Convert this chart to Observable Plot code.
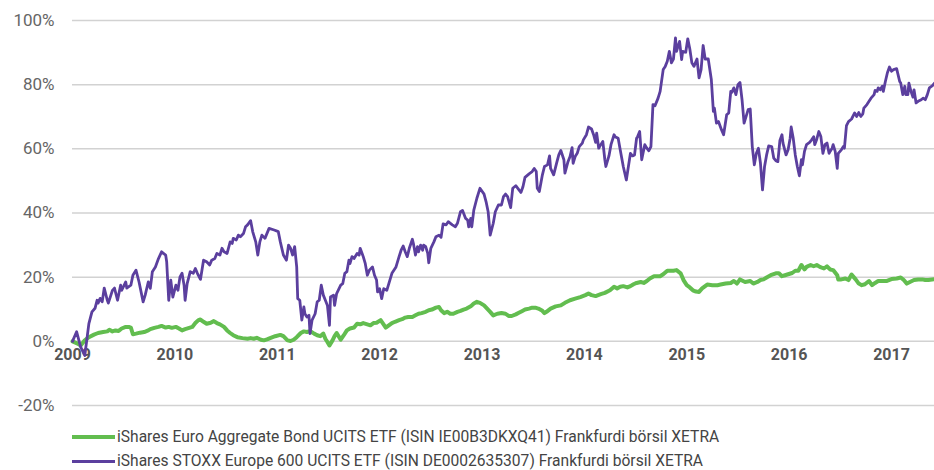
<!DOCTYPE html>
<html>
<head>
<meta charset="utf-8">
<script src="https://cdn.jsdelivr.net/npm/d3@7"></script>
<script src="https://cdn.jsdelivr.net/npm/@observablehq/plot@0.6"></script>
<style>
  html, body { margin: 0; padding: 0; background: #fff; }
  #chart { width: 934px; }
  .legend { font-family: Roboto, sans-serif; font-size: 15.6px; line-height: 18px; color: #444; margin-top: 5px; }
  .legend .row { height: 24px; display: flex; align-items: center; }
  .legend .sw { width: 43px; margin-left: 72px; margin-right: 2px; }
</style>
</head>
<body>
<div id="chart"></div>
<script>
// Tick labels
const yTicks = [-20, 0, 20, 40, 60, 80, 100];
const yearTicks = [2009, 2010, 2011, 2012, 2013, 2014, 2015, 2016, 2017];

// Series names
const seriesNames = [
  "iShares Euro Aggregate Bond UCITS ETF (ISIN IE00B3DKXQ41) Frankfurdi börsil XETRA",
  "iShares STOXX Europe 600 UCITS ETF (ISIN DE0002635307) Frankfurdi börsil XETRA"
];

// Bond ETF: decimal year, cumulative return %
const bondYears = [2009.00,2009.05,2009.08,2009.12,2009.16,2009.21,2009.25,2009.30,2009.34,2009.36,2009.39,2009.42,2009.45,2009.48,2009.52,2009.55,2009.57,2009.59,2009.62,2009.66,2009.70,2009.74,2009.76,2009.80,2009.84,2009.87,2009.91,2009.94,2009.97,2010.01,2010.04,2010.07,2010.10,2010.14,2010.17,2010.20,2010.23,2010.25,2010.28,2010.31,2010.35,2010.38,2010.41,2010.44,2010.48,2010.51,2010.54,2010.57,2010.61,2010.66,2010.71,2010.74,2010.77,2010.80,2010.84,2010.87,2010.90,2010.93,2010.98,2011.03,2011.06,2011.10,2011.13,2011.16,2011.19,2011.23,2011.26,2011.29,2011.32,2011.36,2011.39,2011.42,2011.45,2011.47,2011.49,2011.51,2011.54,2011.56,2011.58,2011.62,2011.65,2011.68,2011.71,2011.75,2011.78,2011.81,2011.84,2011.88,2011.91,2011.94,2011.97,2012.01,2012.03,2012.06,2012.09,2012.12,2012.15,2012.19,2012.22,2012.25,2012.28,2012.32,2012.35,2012.38,2012.41,2012.45,2012.48,2012.51,2012.55,2012.58,2012.60,2012.63,2012.66,2012.69,2012.72,2012.76,2012.79,2012.82,2012.85,2012.89,2012.92,2012.95,2012.98,2013.02,2013.05,2013.08,2013.11,2013.15,2013.19,2013.23,2013.26,2013.29,2013.33,2013.36,2013.39,2013.42,2013.46,2013.49,2013.52,2013.55,2013.59,2013.61,2013.63,2013.67,2013.72,2013.77,2013.81,2013.86,2013.91,2013.96,2014.01,2014.04,2014.07,2014.11,2014.16,2014.20,2014.25,2014.29,2014.32,2014.35,2014.38,2014.42,2014.45,2014.48,2014.51,2014.55,2014.58,2014.61,2014.64,2014.68,2014.74,2014.77,2014.81,2014.84,2014.87,2014.90,2014.94,2014.97,2015.00,2015.03,2015.06,2015.09,2015.12,2015.15,2015.20,2015.25,2015.30,2015.33,2015.38,2015.43,2015.46,2015.49,2015.52,2015.57,2015.62,2015.65,2015.69,2015.72,2015.75,2015.78,2015.82,2015.87,2015.90,2015.93,2015.96,2015.99,2016.03,2016.06,2016.09,2016.12,2016.15,2016.17,2016.21,2016.24,2016.27,2016.30,2016.34,2016.37,2016.40,2016.43,2016.47,2016.48,2016.51,2016.55,2016.58,2016.61,2016.65,2016.68,2016.71,2016.74,2016.78,2016.81,2016.84,2016.87,2016.90,2016.95,2017.00,2017.05,2017.09,2017.12,2017.15,2017.18,2017.22,2017.26,2017.30,2017.33,2017.36,2017.42];
const bondValues = [0,-0.7,-1.3,0.3,1.3,2.1,2.6,2.9,3.1,3.6,3.1,3.4,3.2,4.0,4.5,4.5,4.3,2.2,2.4,2.7,2.9,3.4,3.8,4.2,4.5,4.8,4.3,4.5,4.2,4.5,4.0,3.4,3.8,4.2,4.5,5.7,6.6,6.8,6.1,5.5,5.8,6.3,5.7,5.3,4.5,3.4,2.6,1.9,1.3,1.0,0.8,1.0,0.8,1.1,0.5,0.3,0.6,1.0,1.6,2.0,1.6,0.3,0.1,0.5,1.3,2.6,3.1,2.9,3.2,2.4,1.9,1.6,2.4,0.8,-0.2,-1.3,0.3,1.6,2.6,0.5,1.9,3.4,4.0,4.3,5.5,5.3,5.7,5.3,5.0,5.7,5.8,6.6,5.7,4.3,5.0,5.7,6.1,6.6,6.9,7.4,7.6,7.6,8.1,8.6,8.8,9.2,9.7,9.9,10.5,10.7,9.7,8.8,9.2,8.6,8.6,9.2,9.5,9.9,10.2,10.9,11.8,12.3,12.0,11.2,10.2,9.2,8.1,8.6,8.8,8.6,7.9,7.9,8.4,8.9,9.4,9.9,10.2,10.5,10.5,10.2,9.5,8.8,9.2,10.2,10.9,11.2,12.0,12.8,13.3,13.8,14.4,14.9,14.4,14.1,14.7,15.1,15.9,17.0,16.5,17.0,17.2,16.8,17.2,17.8,18.2,18.5,18.2,18.8,19.6,20.3,20.3,20.9,22.0,22.0,22.0,22.2,21.2,19.0,17.5,16.8,15.9,15.5,15.4,16.5,17.7,17.5,17.5,17.7,18.0,18.2,18.8,18.0,19.3,18.5,18.8,18.0,18.5,19.1,19.3,19.9,20.6,21.2,21.2,20.3,20.6,20.9,21.3,22.0,22.0,23.8,22.4,23.2,23.8,23.4,23.8,23.2,22.7,23.4,22.4,22.2,20.6,19.3,19.3,19.6,19.1,20.8,19.3,18.0,17.5,17.8,18.8,17.5,18.2,18.8,18.8,18.8,19.4,19.6,19.9,19.1,18.0,18.5,19.1,19.3,19.3,19.1,19.1,19.4];

// Equity ETF: decimal year, cumulative return %
const stoxxYears = [2009.00,2009.04,2009.08,2009.12,2009.16,2009.19,2009.22,2009.24,2009.25,2009.27,2009.29,2009.31,2009.34,2009.35,2009.39,2009.41,2009.44,2009.47,2009.48,2009.52,2009.53,2009.57,2009.59,2009.62,2009.65,2009.69,2009.71,2009.74,2009.76,2009.78,2009.81,2009.84,2009.87,2009.91,2009.92,2009.94,2009.96,2009.98,2010.01,2010.03,2010.05,2010.07,2010.09,2010.10,2010.12,2010.15,2010.18,2010.20,2010.22,2010.25,2010.28,2010.31,2010.34,2010.36,2010.39,2010.41,2010.44,2010.46,2010.48,2010.51,2010.54,2010.56,2010.57,2010.60,2010.62,2010.64,2010.67,2010.69,2010.71,2010.74,2010.76,2010.79,2010.81,2010.83,2010.85,2010.88,2010.92,2010.97,2011.01,2011.03,2011.06,2011.09,2011.11,2011.13,2011.15,2011.17,2011.19,2011.20,2011.22,2011.24,2011.26,2011.27,2011.29,2011.31,2011.32,2011.34,2011.37,2011.39,2011.41,2011.43,2011.45,2011.47,2011.49,2011.51,2011.52,2011.55,2011.56,2011.58,2011.62,2011.64,2011.66,2011.68,2011.70,2011.71,2011.73,2011.75,2011.78,2011.80,2011.81,2011.84,2011.86,2011.88,2011.90,2011.93,2011.95,2011.97,2011.98,2012.00,2012.02,2012.04,2012.07,2012.09,2012.12,2012.16,2012.19,2012.21,2012.23,2012.25,2012.27,2012.29,2012.32,2012.33,2012.35,2012.37,2012.38,2012.40,2012.42,2012.43,2012.45,2012.47,2012.48,2012.50,2012.53,2012.55,2012.58,2012.60,2012.62,2012.65,2012.67,2012.71,2012.74,2012.76,2012.79,2012.81,2012.84,2012.86,2012.87,2012.89,2012.90,2012.92,2012.95,2012.98,2013.02,2013.04,2013.06,2013.08,2013.11,2013.13,2013.16,2013.19,2013.21,2013.23,2013.25,2013.28,2013.30,2013.33,2013.35,2013.38,2013.40,2013.42,2013.46,2013.49,2013.51,2013.53,2013.54,2013.56,2013.59,2013.61,2013.64,2013.66,2013.67,2013.70,2013.73,2013.75,2013.77,2013.80,2013.81,2013.84,2013.86,2013.88,2013.89,2013.91,2013.93,2013.95,2013.98,2013.99,2014.02,2014.04,2014.07,2014.09,2014.11,2014.12,2014.14,2014.16,2014.18,2014.20,2014.21,2014.24,2014.26,2014.29,2014.30,2014.33,2014.35,2014.38,2014.41,2014.43,2014.45,2014.47,2014.49,2014.51,2014.52,2014.54,2014.56,2014.59,2014.61,2014.63,2014.65,2014.67,2014.69,2014.72,2014.74,2014.77,2014.79,2014.81,2014.83,2014.85,2014.87,2014.89,2014.90,2014.93,2014.95,2014.96,2014.99,2015.01,2015.03,2015.05,2015.07,2015.10,2015.12,2015.14,2015.16,2015.18,2015.21,2015.24,2015.26,2015.27,2015.29,2015.31,2015.34,2015.36,2015.39,2015.41,2015.43,2015.44,2015.46,2015.48,2015.50,2015.52,2015.54,2015.56,2015.58,2015.60,2015.62,2015.64,2015.66,2015.68,2015.70,2015.72,2015.74,2015.76,2015.78,2015.80,2015.83,2015.85,2015.87,2015.89,2015.91,2015.93,2015.94,2015.97,2015.99,2016.01,2016.02,2016.04,2016.06,2016.08,2016.10,2016.12,2016.13,2016.15,2016.17,2016.20,2016.22,2016.24,2016.25,2016.27,2016.29,2016.31,2016.33,2016.35,2016.37,2016.39,2016.40,2016.42,2016.43,2016.45,2016.47,2016.48,2016.51,2016.53,2016.54,2016.56,2016.58,2016.61,2016.64,2016.66,2016.68,2016.70,2016.72,2016.73,2016.76,2016.79,2016.80,2016.83,2016.84,2016.86,2016.87,2016.89,2016.91,2016.92,2016.94,2016.96,2016.98,2017.00,2017.02,2017.05,2017.06,2017.08,2017.09,2017.11,2017.13,2017.14,2017.16,2017.17,2017.19,2017.21,2017.22,2017.24,2017.26,2017.29,2017.31,2017.33,2017.35,2017.37,2017.40,2017.42];
const stoxxValues = [0,3.0,-1.8,-4.4,5.5,9.2,10.3,12.8,11.9,13.4,12.3,16.6,12.8,11.9,15.9,16.6,12.8,17.5,15.9,18.5,16.6,17.5,20.6,22.2,18.5,12.3,14.4,18.5,16.5,21.7,23.2,25.8,27.9,26.9,24.8,12.8,19.1,13.8,17.5,15.9,20.1,21.2,17.5,12.8,18.0,21.7,21.2,22.7,21.2,19.3,25.3,24.8,23.8,25.3,25.8,27.4,26.9,29.0,27.9,27.4,31.0,30.5,32.1,31.6,33.1,32.6,33.6,35.7,36.3,37.6,34.2,31.0,26.9,31.0,33.1,32.1,35.2,34.7,34.2,31.0,26.9,25.3,30.0,29.0,26.9,29.5,23.2,13.3,12.8,6.6,10.7,8.6,7.6,8.1,2.4,6.6,8.6,12.3,12.8,17.5,14.4,12.8,11.2,5.0,13.8,14.4,11.2,14.9,17.5,18.0,21.2,21.7,25.3,24.2,26.4,25.8,27.4,26.9,29.0,26.4,24.2,20.6,22.2,23.2,20.6,19.1,15.4,16.4,13.3,16.4,15.9,18.0,21.2,23.2,26.4,28.4,29.7,27.9,26.4,29.0,31.8,30.5,26.9,29.5,27.9,30.0,28.4,30.0,29.5,27.4,24.5,29.0,31.0,32.6,33.1,32.4,36.6,36.3,37.3,36.3,35.7,36.8,40.4,40.8,38.3,37.8,35.7,38.3,35.7,40.9,44.6,47.7,45.9,43.5,40.4,33.1,36.8,40.4,42.5,42.5,45.1,45.9,45.1,41.7,47.7,48.5,47.7,46.4,48.2,51.1,52.2,52.9,53.9,52.9,47.7,46.7,51.9,54.5,55.0,57.8,53.9,51.9,55.7,58.1,59.5,56.6,52.4,56.0,57.6,60.4,55.5,57.6,58.6,60.7,61.8,62.8,64.4,66.8,66.2,64.4,62.0,64.9,60.2,61.3,62.3,56.6,54.5,57.8,61.3,64.4,63.8,63.3,59.7,54.5,50.3,54.5,58.6,57.8,58.1,63.3,63.8,65.4,56.6,61.3,60.2,59.4,60.7,73.8,73.4,75.8,77.9,84.7,85.7,87.3,90.4,86.8,88.0,94.6,90.4,93.5,87.8,90.4,90.1,94.3,91.1,86.8,85.7,88.0,82.1,84.7,92.2,88.0,88.0,81.6,71.7,72.7,68.0,68.5,65.9,64.4,70.6,71.2,77.9,77.6,79.0,76.9,80.0,80.7,75.3,68.0,70.1,72.2,72.4,60.7,55.0,58.6,60.2,55.5,47.2,54.5,58.1,60.9,60.7,57.1,56.3,56.0,62.6,64.4,61.8,58.1,59.7,63.3,66.8,63.3,58.1,54.5,51.6,56.6,55.0,59.2,61.3,62.0,62.8,63.8,61.3,63.0,65.4,63.8,58.6,61.3,61.8,58.6,59.2,60.2,61.3,59.2,53.9,58.6,59.7,60.7,60.2,67.2,68.5,69.3,71.2,70.1,71.3,70.1,70.9,72.7,73.8,75.3,75.8,76.9,78.2,77.9,79.0,78.4,79.5,77.9,81.0,83.7,85.5,84.2,84.7,85.0,83.7,81.0,80.5,76.9,79.5,76.9,76.9,80.5,77.9,76.1,78.4,74.3,74.8,75.3,75.8,75.3,76.9,79.0,79.7,80.5];

const colors = ["#62bd4f", "#5b3f9e"];
const widths = [4, 2.8];

const bond = bondYears.map((x, i) => ({x, y: bondValues[i]}));
const stoxx = stoxxYears.map((x, i) => ({x, y: stoxxValues[i]}));

const chart = Plot.plot({
  width: 934,
  height: 420,
  marginLeft: 72,
  marginRight: 0,
  marginTop: 20,
  marginBottom: 15,
  style: {fontFamily: "Roboto, sans-serif", fontSize: "15px", background: "#fff"},
  x: {domain: [2009, 2017.42], axis: null},
  y: {domain: [-20, 100], axis: null},
  marks: [
    Plot.gridY(yTicks, {stroke: "#d2d2d2", strokeOpacity: 1, strokeWidth: 1.5}),
    Plot.axisY(yTicks, {tickSize: 0, tickPadding: 18, tickFormat: d => d + "%", fill: "#666", fontSize: 17, label: null}),
    Plot.text(yearTicks, {x: d => d, y: 0, dy: 14, text: d => String(d), fontWeight: "bold", fill: "#555", fontSize: 16}),
    Plot.line(bond, {x: "x", y: "y", stroke: colors[0], strokeWidth: widths[0], strokeLinejoin: "round"}),
    Plot.line(stoxx, {x: "x", y: "y", stroke: colors[1], strokeWidth: widths[1], strokeLinejoin: "round"})
  ]
});
document.getElementById("chart").appendChild(chart);

const legend = document.createElement("div");
legend.className = "legend";
seriesNames.forEach((name, i) => {
  const row = document.createElement("div");
  row.className = "row";
  const sw = document.createElement("div");
  sw.className = "sw";
  sw.style.height = (i === 0 ? 4 : 3) + "px";
  sw.style.background = colors[i];
  const t = document.createElement("span");
  t.textContent = name;
  row.appendChild(sw);
  row.appendChild(t);
  legend.appendChild(row);
});
document.getElementById("chart").appendChild(legend);
</script>
</body>
</html>
